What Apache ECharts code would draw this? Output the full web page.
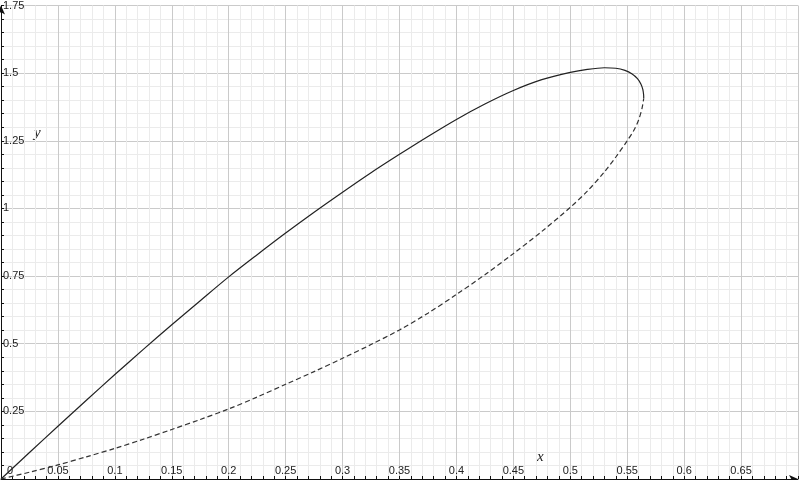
<!DOCTYPE html>
<html>
<head>
<meta charset="utf-8">
<script src="https://cdn.jsdelivr.net/npm/echarts@6/dist/echarts.min.js"></script>
<style>html,body{margin:0;padding:0;background:#fff}#c{width:800px;height:480px}</style>
</head>
<body>
<div id="c"></div>
<script>
// Solid branch (upper curve)
const solidX = [0, 0.025, 0.05, 0.075, 0.1, 0.125, 0.15, 0.175, 0.2, 0.225, 0.25, 0.275, 0.3, 0.325, 0.35, 0.375, 0.4, 0.425, 0.45, 0.475, 0.5, 0.515, 0.53, 0.54, 0.548, 0.554, 0.559, 0.562, 0.5637, 0.5644, 0.5645];
const solidY = [0, 0.098, 0.195, 0.291, 0.386, 0.479, 0.570, 0.659, 0.747, 0.829, 0.909, 0.986, 1.060, 1.132, 1.200, 1.266, 1.329, 1.386, 1.436, 1.476, 1.503, 1.514, 1.520, 1.518, 1.510, 1.498, 1.480, 1.460, 1.440, 1.420, 1.407];
// Dashed branch (lower curve)
const dashX = [0, 0.025, 0.05, 0.075, 0.1, 0.125, 0.15, 0.175, 0.2, 0.225, 0.25, 0.275, 0.3, 0.325, 0.35, 0.375, 0.4, 0.425, 0.45, 0.475, 0.5, 0.515, 0.53, 0.54, 0.55, 0.556, 0.56, 0.563, 0.5645];
const dashY = [0, 0.025, 0.052, 0.082, 0.113, 0.147, 0.183, 0.220, 0.259, 0.303, 0.350, 0.397, 0.446, 0.497, 0.551, 0.613, 0.682, 0.755, 0.833, 0.915, 1.004, 1.064, 1.135, 1.190, 1.250, 1.290, 1.327, 1.370, 1.407];
// Axis settings
const xMin = 0, xMax = 0.7, xStep = 0.05;
const yMin = 0, yMax = 1.75, yStep = 0.25;

const zip = (a, b) => a.map((v, i) => [v, b[i]]);
const chart = echarts.init(document.getElementById('c'));
const labelFont = {color: '#222', fontSize: 11, fontFamily: 'Liberation Sans, Arial, sans-serif'};
chart.setOption({
  animation: false,
  backgroundColor: '#fff',
  grid: {left: 1, right: 2, top: 1, bottom: 1, containLabel: false},
  xAxis: {
    type: 'value', min: xMin, max: xMax, interval: xStep,
    axisLine: {show: true, lineStyle: {color: '#111', width: 1}, symbol: ['none', 'arrow'], symbolSize: [6, 9]},
    axisTick: {show: true, inside: true, length: 3, lineStyle: {color: '#111'}},
    minorTick: {show: true, splitNumber: 5, length: 3, lineStyle: {color: '#111'}},
    splitLine: {show: true, lineStyle: {color: '#cacaca', width: 1}},
    minorSplitLine: {show: true, lineStyle: {color: '#ebebeb', width: 1}},
    axisLabel: Object.assign({inside: true, margin: 3, showMaxLabel: false, alignMinLabel: 'left',
      formatter: v => v === 0 ? '{z|0}' : String(+v.toFixed(2)),
      rich: {z: {padding: [0, 0, 0, 6], color: '#222', fontSize: 11, fontFamily: 'Liberation Sans, Arial, sans-serif'}}}, labelFont)
  },
  yAxis: {
    type: 'value', min: yMin, max: yMax, interval: yStep,
    axisLine: {show: true, lineStyle: {color: '#111', width: 1}, symbol: ['none', 'arrow'], symbolSize: [6, 9]},
    axisTick: {show: true, inside: true, length: 3, lineStyle: {color: '#111'}},
    minorTick: {show: true, splitNumber: 5, length: 3, lineStyle: {color: '#111'}},
    splitLine: {show: true, lineStyle: {color: '#cacaca', width: 1}},
    minorSplitLine: {show: true, lineStyle: {color: '#ebebeb', width: 1}},
    axisLabel: Object.assign({inside: true, margin: 2,
      formatter: v => v === 0 ? '' : String(+v.toFixed(2))}, labelFont)
  },
  series: [
    {type: 'line', data: zip(solidX, solidY), smooth: 0.3, symbol: 'none',
     lineStyle: {color: '#222', width: 1.2}},
    {type: 'line', data: zip(dashX, dashY), smooth: 0.3, symbol: 'none',
     lineStyle: {color: '#333', width: 1.2, type: [5, 3]}}
  ],
  graphic: [
    {type: 'text', left: 537, top: 450, style: {text: 'x', fontSize: 15, fontStyle: 'italic', fontFamily: 'Liberation Serif, DejaVu Serif, serif', fill: '#222'}},
    {type: 'text', left: 34, top: 126, style: {text: 'y', fontSize: 15, fontStyle: 'italic', fontFamily: 'Liberation Serif, DejaVu Serif, serif', fill: '#222'}}
  ]
});
</script>
</body>
</html>
